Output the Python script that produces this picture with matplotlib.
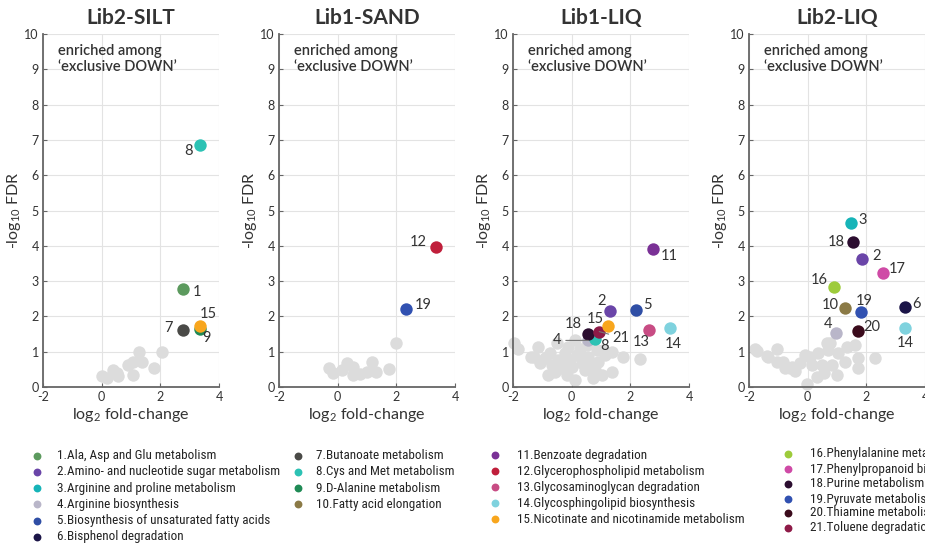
import os
import matplotlib
matplotlib.use("Agg")
import matplotlib.pyplot as plt
from matplotlib import font_manager

plt.rcParams['font.family'] = ['Lato', 'DejaVu Sans']
plt.rcParams['mathtext.default'] = 'regular'
plt.rcParams['axes.unicode_minus'] = False

# KEGG pathways, numbered as in the legend
pathway_names = [
    'Ala, Asp and Glu metabolism', 'Amino- and nucleotide sugar metabolism',
    'Arginine and proline metabolism', 'Arginine biosynthesis',
    'Biosynthesis of unsaturated fatty acids', 'Bisphenol degradation',
    'Butanoate metabolism', 'Cys and Met metabolism', 'D-Alanine metabolism',
    'Fatty acid elongation', 'Benzoate degradation',
    'Glycerophospholipid metabolism', 'Glycosaminoglycan degradation',
    'Glycosphingolipid biosynthesis', 'Nicotinate and nicotinamide metabolism',
    'Phenylalanine metabolism', 'Phenylpropanoid biosynthesis',
    'Purine metabolism', 'Pyruvate metabolism', 'Thiamine metabolism',
    'Toluene degradation',
]
pathway_colors = [
    '#5c9a5e', '#6a45a8', '#16b4b8', '#b9b6c9', '#2f4ea5', '#1b1548',
    '#4a4a47', '#2cc2b4', '#1f8a55', '#8b7a46', '#7a3196', '#c01f3b',
    '#c84c84', '#7fd2de', '#f8a61d', '#9dcb3b', '#cf4aa6', '#2c0e30',
    '#3151b1', '#3b0b1c', '#8e1b48',
]

titles = ['Lib2-SILT', 'Lib1-SAND', 'Lib1-LIQ', 'Lib2-LIQ']

# enriched pathways: id, log2 fold-change, -log10 FDR
silt_ids = [9, 15, 7, 1, 8]
silt_fc = [3.35, 3.35, 2.77, 2.76, 3.35]
silt_fdr = [1.65, 1.74, 1.61, 2.78, 6.86]
silt_gray_fc = [0.0, 0.19, 0.38, 0.53, 0.57, 0.91, 1.06, 1.08, 1.28, 1.36, 1.78, 2.05]
silt_gray_fdr = [0.31, 0.26, 0.48, 0.41, 0.30, 0.62, 0.34, 0.72, 1.0, 0.72, 0.53, 1.0]

sand_ids = [19, 12]
sand_fc = [2.32, 3.34]
sand_fdr = [2.2, 3.97]
sand_gray_fc = [-0.28, -0.15, 0.14, 0.31, 0.51, 0.53, 0.76, 0.99, 1.16, 1.31, 1.75, 1.99]
sand_gray_fdr = [0.53, 0.41, 0.48, 0.67, 0.57, 0.34, 0.36, 0.43, 0.70, 0.43, 0.50, 1.24]

liq1_ids = [4, 8, 18, 21, 15, 2, 5, 11, 13, 14]
liq1_fc = [0.57, 0.80, 0.57, 0.94, 1.24, 1.31, 2.18, 2.76, 2.63, 3.34]
liq1_fdr = [1.32, 1.35, 1.51, 1.57, 1.73, 2.14, 2.17, 3.92, 1.61, 1.66]
liq1_gray_fc = [-1.95, -1.82, -1.14, -1.27, -1.08, -0.91, -0.74, -0.68, -0.57, -0.45,
                -0.34, -0.23, -0.11, -0.06, 0.0, -0.17, 0.11, 0.17, 0.28, 0.34,
                0.45, 0.57, 0.68, 0.74, 0.85, 0.91, 1.02, 1.14, 1.36, 1.76,
                2.33, -0.80, -0.51, 0.51, 1.08, 0.11, 1.36, 0.80, -1.40, -0.30]
liq1_gray_fdr = [1.25, 1.07, 1.14, 0.84, 0.67, 0.81, 0.95, 0.62, 0.43, 0.76,
                 0.53, 0.95, 1.14, 0.76, 0.58, 0.34, 0.20, 0.91, 1.09, 0.67,
                 0.48, 0.86, 0.62, 0.25, 1.05, 0.72, 0.34, 0.91, 0.43, 0.84,
                 0.80, 0.34, 1.24, 1.19, 1.05, 1.33, 1.00, 0.48, 0.85, 0.62]

liq2_ids = [3, 18, 2, 17, 16, 10, 19, 6, 4, 20, 14]
liq2_fc = [1.47, 1.54, 1.86, 2.57, 0.90, 1.27, 1.81, 3.33, 0.96, 1.73, 3.33]
liq2_fdr = [4.64, 4.12, 3.64, 3.22, 2.84, 2.23, 2.13, 2.28, 1.54, 1.60, 1.66]
liq2_gray_fc = [-1.80, -1.74, -1.40, -1.34, -1.06, -1.06, -0.83, -0.77, -0.55, -0.43,
                -0.09, -0.03, 0.14, 0.31, 0.36, 0.48, 0.65, 0.70, 0.82, 0.99,
                1.05, 1.27, 1.33, 1.61, 1.73, 1.73, 2.30, -0.26, 0.08, 0.76,
                -0.60, 0.55]
liq2_gray_fdr = [1.07, 1.03, 0.87, 0.84, 1.09, 0.72, 0.72, 0.53, 0.58, 0.46,
                 0.91, 0.08, 0.62, 0.29, 0.95, 0.62, 1.25, 1.05, 0.62, 0.34,
                 0.95, 0.72, 1.14, 1.19, 0.81, 0.53, 0.81, 0.67, 0.86, 1.24,
                 0.55, 0.40]

panels = [
    (silt_ids, silt_fc, silt_fdr, silt_gray_fc, silt_gray_fdr),
    (sand_ids, sand_fc, sand_fdr, sand_gray_fc, sand_gray_fdr),
    (liq1_ids, liq1_fc, liq1_fdr, liq1_gray_fc, liq1_gray_fdr),
    (liq2_ids, liq2_fc, liq2_fdr, liq2_gray_fc, liq2_gray_fdr),
]

# label offsets in pixels (right, up) for each numbered point
label_offsets = [
    {8: (-11, -6), 1: (14, -3), 15: (8, 12), 9: (6, -9), 7: (-14, 2)},
    {12: (-17, 5), 19: (17, 4)},
    {11: (17, -7), 2: (-9, 10), 5: (12, 5), 15: (-13, 7), 18: (-15, 10),
     21: (22, -6), 8: (9, -7), 13: (-8, -12), 14: (4, -16), 4: (-31, 0)},
    {3: (12, 3), 18: (-17, 0), 2: (14, 3), 17: (14, 4), 16: (-15, 7),
     10: (-15, 3), 19: (3, 11), 6: (11, 3), 4: (-8, 9), 20: (13, 4), 14: (0, -15)},
]
leader_lines = [set(), set(), {4, 21}, set()]


def narrow_font():
    # look for a condensed sans for the legend, otherwise use Lato
    prefs = ['LiberationSansNarrow-Regular', 'NotoSans-Condensed', 'RobotoCondensed-Regular',
             'OpenSans-CondensedRegular', 'OpenSans_Condensed-Regular', 'DejaVuSansCondensed']
    files = [f.fname for f in font_manager.fontManager.ttflist]
    for p in prefs:
        for fn in files:
            base = os.path.splitext(os.path.basename(fn))[0]
            if base == p or base == p + '-Regular':
                return font_manager.FontProperties(fname=fn)
    for fn in files:
        base = os.path.basename(fn)
        if ('Condensed' in base or 'Narrow' in base) and 'Mono' not in base \
                and 'Serif' not in base and 'Bold' not in base and 'Italic' not in base \
                and 'Light' not in base and 'Black' not in base and 'Thin' not in base \
                and 'Medium' not in base and 'Semi' not in base and 'Extra' not in base:
            return font_manager.FontProperties(fname=fn)
    return font_manager.FontProperties(family='Lato')


fig = plt.figure(figsize=(9.25, 5.46), dpi=100)
lefts = [0.0465, 0.3016, 0.5546, 0.8097]
px = 0.72  # points per pixel at 100 dpi

for k, (ids, fc, fdr, gfc, gfdr) in enumerate(panels):
    ax = fig.add_axes([lefts[k], 0.2912, 0.1903, 0.6465])
    ax.set_xlim(-2, 4)
    ax.set_ylim(0, 10)
    ax.set_xticks([-2, 0, 2, 4])
    ax.set_yticks(range(11))
    ax.grid(True, color='#e3e3e3', lw=0.8)
    ax.set_axisbelow(True)
    for s in ['top', 'right']:
        ax.spines[s].set_visible(False)
    for s in ['left', 'bottom']:
        ax.spines[s].set_color('#666666')
        ax.spines[s].set_linewidth(1.3)
    ax.tick_params(direction='in', length=3, color='#666666', labelsize=9,
                   labelcolor='#333333', pad=3)

    ax.scatter(gfc, gfdr, s=80, color='#dcdcdc', linewidths=0, zorder=2, clip_on=False)
    for pid, x, y in zip(ids, fc, fdr):
        ax.scatter([x], [y], s=80, color=pathway_colors[pid - 1], linewidths=0,
                   zorder=3, clip_on=False)
        dx, dy = label_offsets[k][pid]
        arrow = None
        if pid in leader_lines[k]:
            arrow = dict(arrowstyle='-', color='#777777', lw=0.8, shrinkA=1, shrinkB=0)
        ax.annotate(str(pid), (x, y), xytext=(dx * px, dy * px),
                    textcoords='offset points', ha='center', va='center',
                    fontsize=10.5, color='#333333', arrowprops=arrow, zorder=4)

    ax.text(-1.5, 9.72, 'enriched among\n\u2018exclusive DOWN\u2019', fontsize=10.5,
            weight='semibold', color='#333333', va='top', ha='left', linespacing=1.15)
    ax.set_title(titles[k], fontsize=15, weight='bold', color='#333333', pad=7)
    ax.set_xlabel('log$_2$ fold-change', fontsize=11.5, color='#333333', labelpad=2)
    ax.set_ylabel('-log$_{10}$ FDR', fontsize=11.5, color='#333333', labelpad=1)

# legend drawn in pixel space below the panels
leg = fig.add_axes([0, 0, 1, 1], zorder=-1)
leg.set_xlim(0, 925)
leg.set_ylim(546, 0)
leg.axis('off')

legend_font = narrow_font()
legend_font.set_size(10)
renderer = fig.canvas.get_renderer()
probe = leg.text(0, 0, '1.' + pathway_names[0], fontproperties=legend_font)
probe_w = probe.get_window_extent(renderer).width
probe.remove()
legend_font.set_size(min(11.0, 10 * 158 / probe_w))

columns = [
    (36.7, 56.7, range(1, 7), [455.7, 471.9, 488.1, 504.3, 520.5, 536.7]),
    (298, 316, range(7, 11), [455.7, 471.9, 488.1, 504.3]),
    (495, 516.7, range(11, 16), [455.2, 471.2, 487.2, 503.2, 519.2]),
    (787.7, 810, range(16, 22), [454, 469, 483.5, 499, 513, 527.5]),
]
for dot_x, text_x, nums, rows in columns:
    for n, y in zip(nums, rows):
        leg.scatter([dot_x], [y], s=32, color=pathway_colors[n - 1], linewidths=0)
        leg.text(text_x, y, '%d.%s' % (n, pathway_names[n - 1]),
                 fontproperties=legend_font, color='#222222', va='center', ha='left')

fig.savefig('out.png', dpi=100)
